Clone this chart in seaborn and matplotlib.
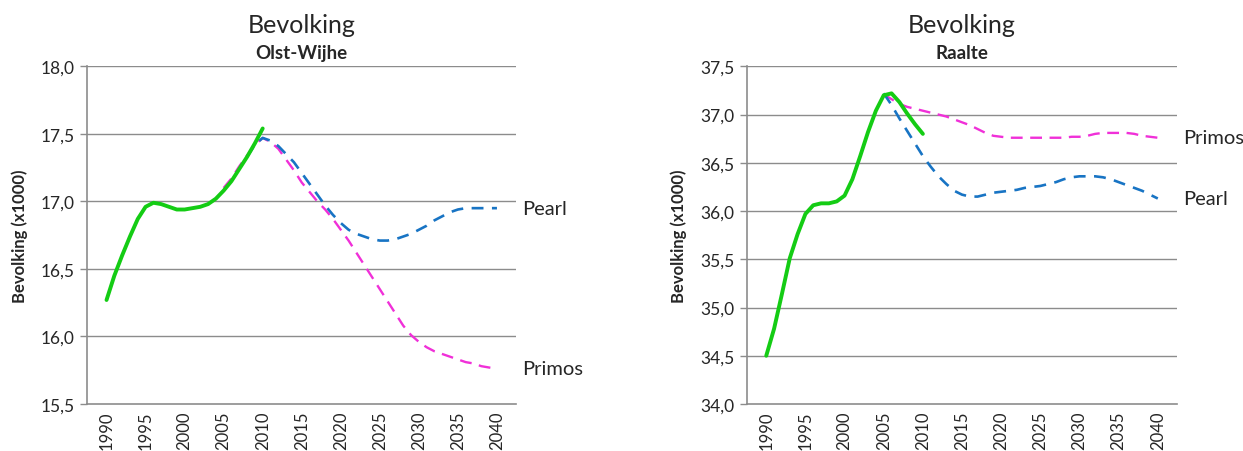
import pandas as pd
import seaborn as sns
import matplotlib.pyplot as plt
from matplotlib.ticker import FixedLocator, FuncFormatter

sns.set_style("white")
plt.rcParams['font.family'] = ['Lato', 'DejaVu Sans']

# --- data (population x1000) ---
hist_years = list(range(1990, 2011))
prog_years = list(range(2005, 2041))

olst_hist = [16.27, 16.45, 16.60, 16.74, 16.87, 16.96, 16.99, 16.98, 16.96, 16.94,
             16.94, 16.95, 16.96, 16.98, 17.02, 17.08, 17.15, 17.24, 17.33, 17.43, 17.54]
olst_pearl = [None, None, None, 17.33, 17.42, 17.47, 17.45, 17.41, 17.35, 17.29,
              17.21, 17.13, 17.05, 16.97, 16.90, 16.84, 16.79, 16.76, 16.74, 16.72,
              16.71, 16.71, 16.72, 16.74, 16.76, 16.79, 16.82, 16.86, 16.89, 16.92,
              16.94, 16.95, 16.95, 16.95, 16.95, 16.95]
olst_primos = [17.10, 17.17, 17.26, 17.34, 17.42, 17.47, 17.44, 17.39, 17.31, 17.23,
               17.14, 17.07, 17.00, 16.94, 16.87, 16.79, 16.71, 16.62, 16.53, 16.44,
               16.35, 16.26, 16.17, 16.08, 16.01, 15.96, 15.92, 15.89, 15.87, 15.85,
               15.83, 15.81, 15.80, 15.78, 15.77, 15.76]

raalte_hist = [34.50, 34.78, 35.14, 35.51, 35.76, 35.97, 36.06, 36.08, 36.08, 36.10,
               36.16, 36.33, 36.57, 36.82, 37.04, 37.20, 37.22, 37.13, 37.01, 36.90, 36.80]
raalte_pearl = [37.22, 37.10, 36.96, 36.83, 36.70, 36.57, 36.46, 36.36, 36.28, 36.21,
                36.17, 36.15, 36.15, 36.17, 36.19, 36.20, 36.21, 36.22, 36.24, 36.25,
                36.26, 36.28, 36.30, 36.33, 36.35, 36.36, 36.36, 36.36, 36.35, 36.33,
                36.30, 36.27, 36.24, 36.21, 36.17, 36.13]
raalte_primos = [37.21, 37.16, 37.11, 37.08, 37.06, 37.04, 37.02, 37.00, 36.98, 36.95,
                 36.92, 36.89, 36.85, 36.81, 36.78, 36.77, 36.76, 36.76, 36.76, 36.76,
                 36.76, 36.76, 36.76, 36.76, 36.77, 36.77, 36.78, 36.80, 36.81, 36.81,
                 36.81, 36.81, 36.80, 36.78, 36.77, 36.76]

label_years = list(range(1990, 2041, 5))

GREEN = '#14cc14'
BLUE = '#1874c4'
MAGENTA = '#f030d8'
GRID = '#8c8c8c'

fig = plt.figure(figsize=(12.43, 4.52), dpi=100)
ax1 = fig.add_axes([0.070, 0.104, 0.3455, 0.747])
ax2 = fig.add_axes([0.6007, 0.104, 0.3465, 0.747])

panels = [
    (ax1, "Olst-Wijhe", olst_hist, olst_pearl, olst_primos, (15.5, 18.0),
     [15.5 + 0.5 * i for i in range(6)], [("Pearl", 16.95), ("Primos", 15.76)]),
    (ax2, "Raalte", raalte_hist, raalte_pearl, raalte_primos, (34.0, 37.5),
     [34.0 + 0.5 * i for i in range(8)], [("Primos", 36.76), ("Pearl", 36.13)]),
]

for ax, name, hist, pearl, primos, ylim, yticks, labels in panels:
    df_h = pd.DataFrame({"jaar": hist_years, "v": hist})
    df_pe = pd.DataFrame({"jaar": prog_years, "v": pearl}).dropna()
    df_pr = pd.DataFrame({"jaar": prog_years, "v": primos}).dropna()

    ax.grid(False)
    for y in yticks[1:]:
        ax.axhline(y, color=GRID, lw=1.0, zorder=0)

    sns.lineplot(data=df_pr, x="jaar", y="v", ax=ax, color=MAGENTA, lw=1.7,
                 zorder=2).lines[-1].set_dashes([5, 3.2])
    sns.lineplot(data=df_pe, x="jaar", y="v", ax=ax, color=BLUE, lw=1.9,
                 zorder=3).lines[-1].set_dashes([4.5, 3.2])
    sns.lineplot(data=df_h, x="jaar", y="v", ax=ax, color=GREEN, lw=2.8, zorder=4,
                 solid_capstyle='round')

    ax.set_xlim(1987.5, 2042.5)
    ax.set_ylim(*ylim)
    ax.xaxis.set_major_locator(FixedLocator(label_years))
    ax.xaxis.set_minor_locator(FixedLocator([1987.5 + 5 * i for i in range(12)]))
    ax.set_xticklabels([str(y) for y in label_years], rotation=90, fontsize=12)
    ax.tick_params(axis='x', which='major', length=0, pad=5)
    ax.tick_params(axis='x', which='minor', length=5, width=1, color=GRID, direction='out')
    ax.yaxis.set_major_locator(FixedLocator(yticks))
    ax.yaxis.set_major_formatter(FuncFormatter(lambda v, p: f"{v:.1f}".replace('.', ',')))
    ax.tick_params(axis='y', length=5, width=1, color=GRID, direction='out',
                   labelsize=12.5, pad=4, left=True)

    for s in ['top', 'right']:
        ax.spines[s].set_visible(False)
    for s in ['left', 'bottom']:
        ax.spines[s].set_color(GRID)
        ax.spines[s].set_linewidth(1.2)

    ax.set_xlabel("")
    ax.set_ylabel("Bevolking (x1000)", fontsize=12, fontweight='bold', labelpad=9)
    ax.text(0.5, 1.125, "Bevolking", transform=ax.transAxes, ha='center',
            va='center', fontsize=18)
    ax.text(0.5, 1.042, name, transform=ax.transAxes, ha='center',
            va='center', fontsize=13.5, fontweight='bold')

    for txt, yv in labels:
        ax.text(2043.2, yv, txt, ha='left', va='center', fontsize=14.5, clip_on=False)

fig.savefig("out.png", dpi=100)
